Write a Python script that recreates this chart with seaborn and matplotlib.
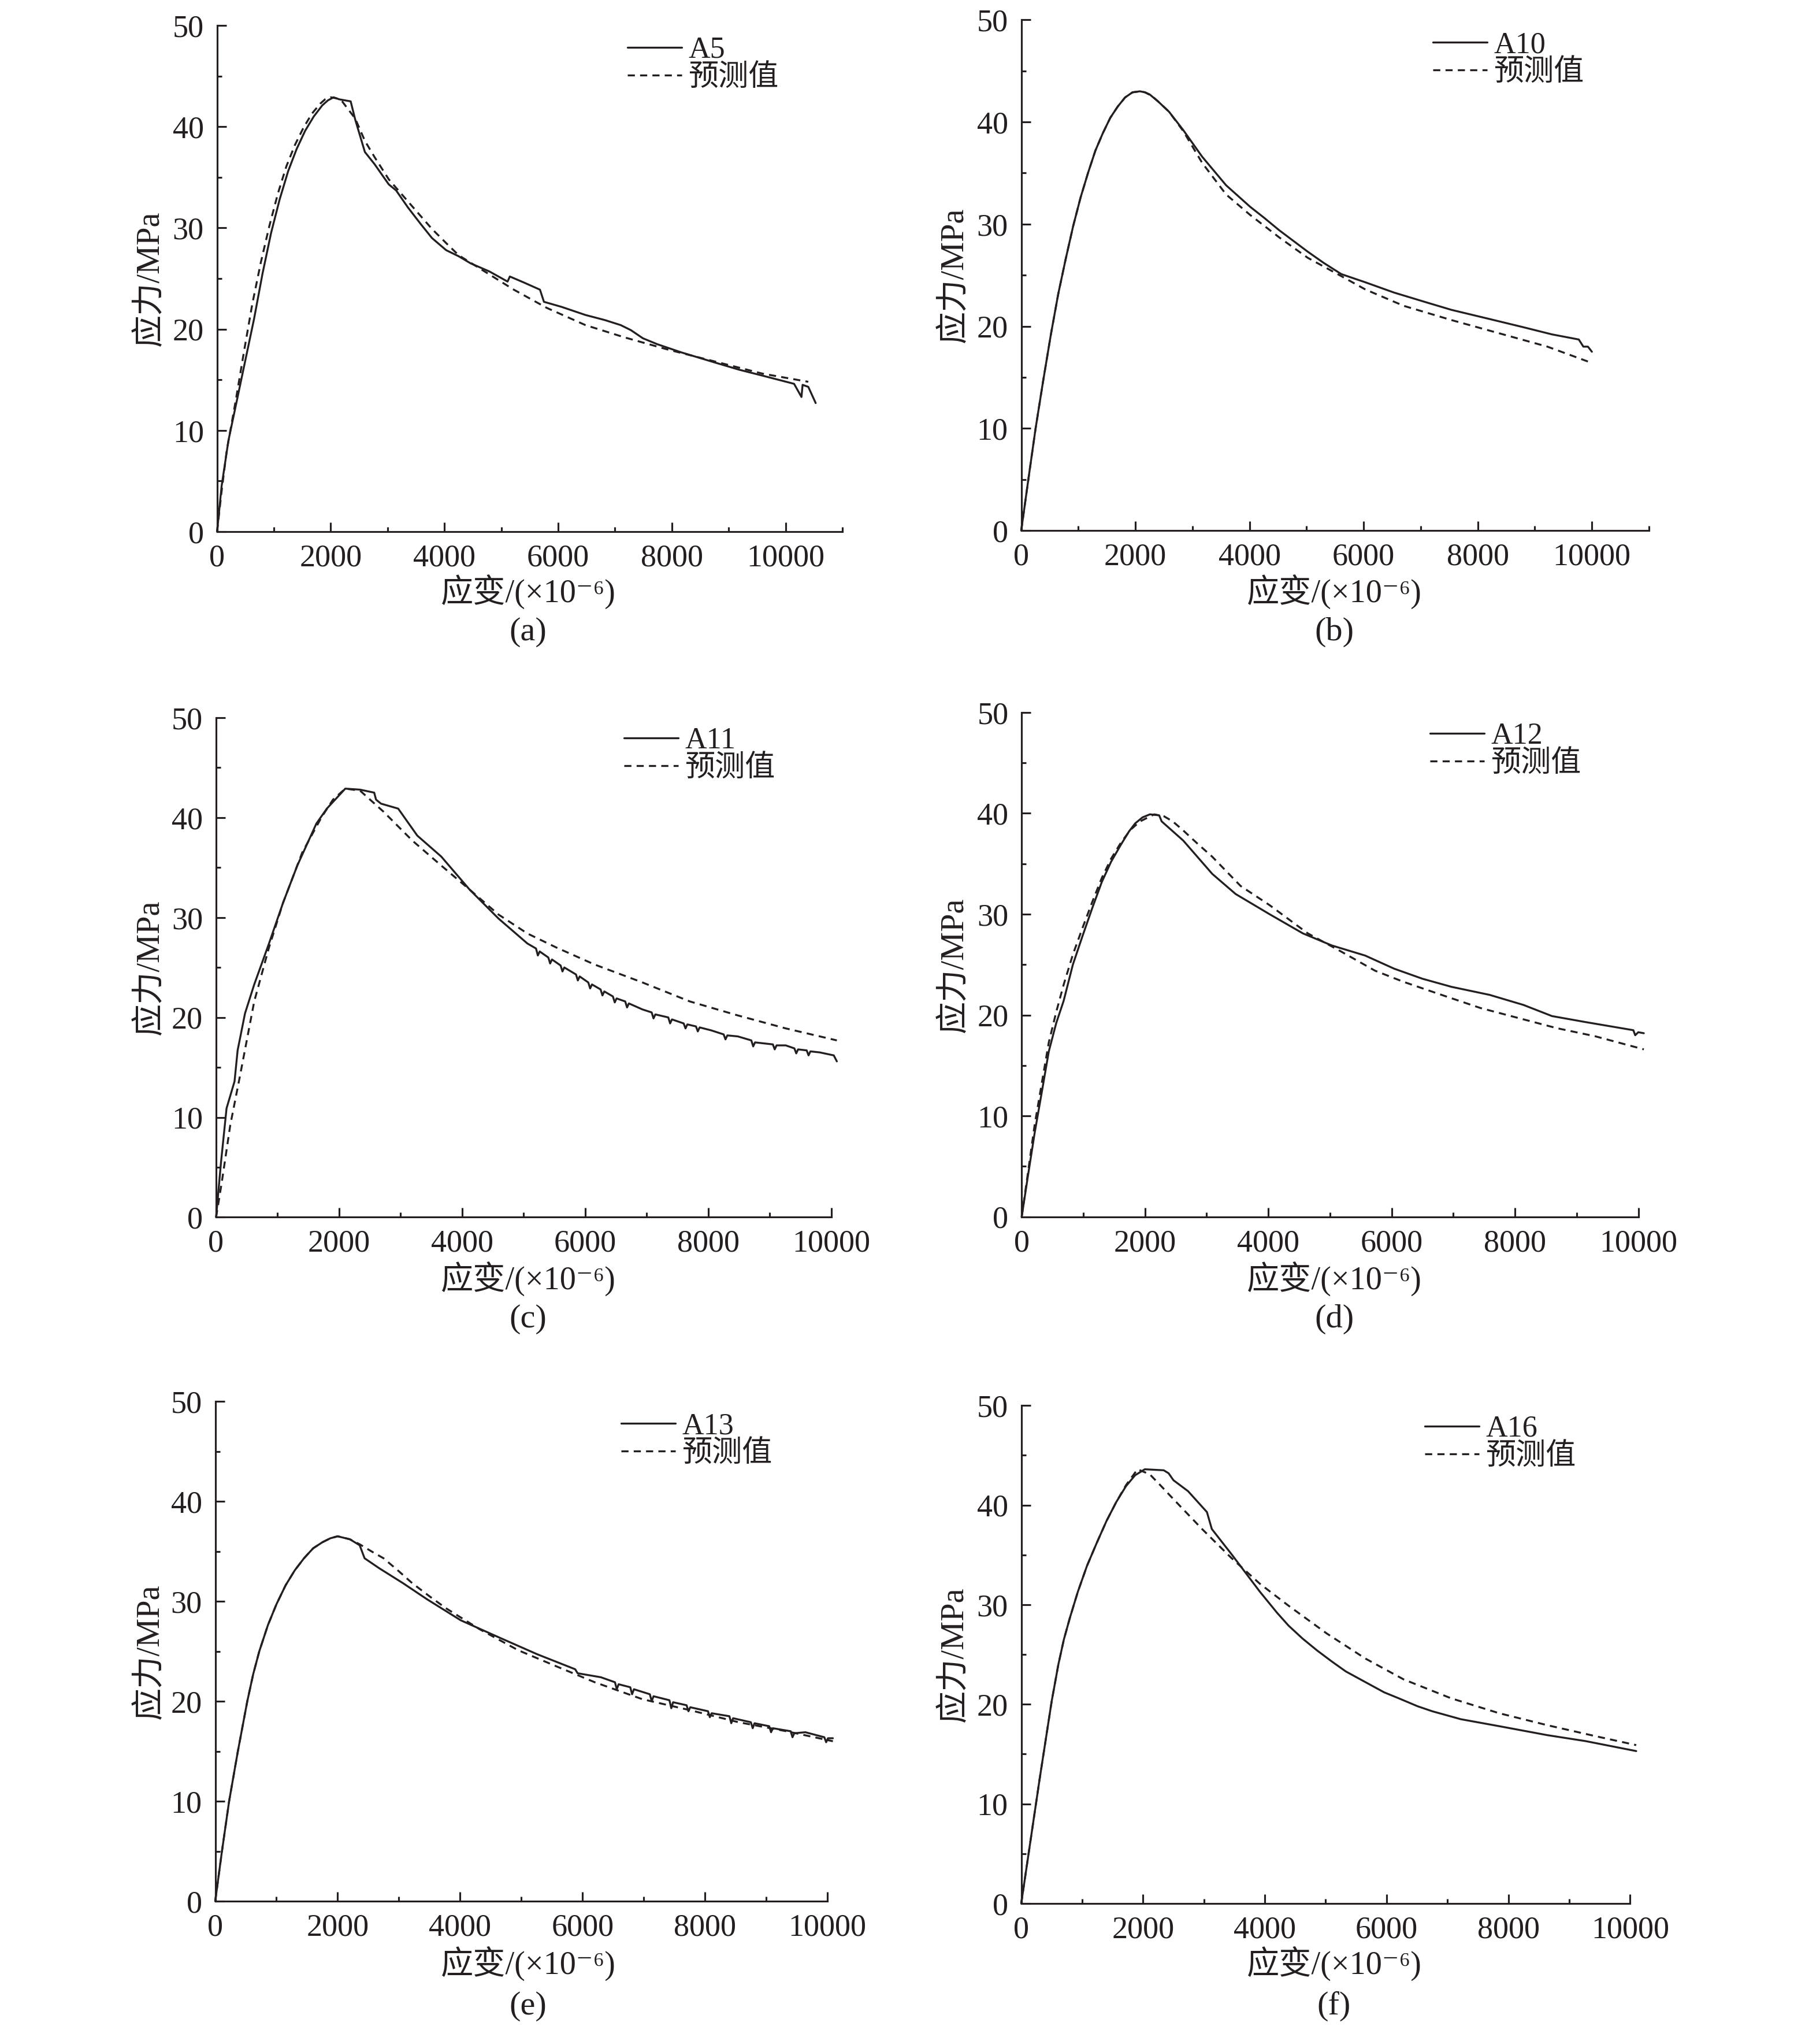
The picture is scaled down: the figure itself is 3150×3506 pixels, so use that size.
import numpy as np
import pandas as pd
import matplotlib
matplotlib.use("Agg")
import matplotlib.pyplot as plt
from matplotlib.ticker import MultipleLocator
import seaborn as sns

# ---- data (strain in 1e-6, stress in MPa) ----
a5_x = [0, 80, 200, 350, 500, 650, 800, 950, 1100, 1250, 1400, 1550, 1700, 1850, 1950, 2050, 2150,
        2250, 2350, 2430, 2600, 2770, 3020, 3150, 3360, 3580, 3780, 4030, 4250, 4460, 4790, 5110,
        5150, 5400, 5680, 5750, 6060, 6480, 6820, 7100, 7280, 7490, 7750, 8170, 8760, 9180, 9600,
        10150, 10280, 10300, 10400, 10530]
a5_y = [0, 4.5, 9, 13, 17, 21, 25.5, 29.5, 32.8, 35.6, 37.8, 39.6, 41.0, 42.1, 42.6, 42.9, 42.7,
        42.6, 42.5, 40.7, 37.5, 36.3, 34.3, 33.7, 32.0, 30.4, 29.0, 27.8, 27.2, 26.5, 25.7, 24.7,
        25.2, 24.6, 23.9, 22.7, 22.2, 21.4, 20.9, 20.4, 19.9, 19.1, 18.5, 17.7, 16.7, 16.0, 15.4,
        14.6, 13.3, 14.5, 14.3, 12.7]
a5_px = [0, 80, 170, 330, 480, 620, 770, 920, 1070, 1220, 1370, 1520, 1670, 1820, 1900, 2000, 2100,
         2200, 2430, 2600, 2770, 3020, 3360, 3780, 4030, 4250, 4620, 5220, 5800, 6480, 7160, 7920,
         8760, 9600, 10400]
a5_py = [0, 4, 8, 13, 18, 22.5, 26.6, 30.2, 33.4, 36.1, 38.2, 39.9, 41.3, 42.3, 42.7, 42.9, 42.8,
         42.5, 40.8, 38.6, 37.0, 34.8, 32.6, 29.9, 28.5, 27.3, 26.0, 23.9, 22.1, 20.4, 19.2, 18.0,
         16.8, 15.6, 14.8]

a10_x = [0, 130, 252, 380, 520, 650, 780, 910, 1040, 1170, 1300, 1430, 1560, 1690, 1820, 1950, 2080,
         2170, 2250, 2400, 2590, 2840, 3170, 3590, 4010, 4260, 4520, 5020, 5300, 5610, 6030, 6530,
         7120, 7540, 8210, 8800, 9300, 9770, 9850, 9930, 10000]
a10_y = [0, 5.2, 10, 14.5, 19.2, 23.2, 26.6, 29.8, 32.6, 35.0, 37.2, 38.9, 40.4, 41.5, 42.4, 42.9, 43.0,
         42.9, 42.7, 42.0, 41.0, 39.2, 36.6, 33.8, 31.7, 30.6, 29.4, 27.3, 26.2, 25.1, 24.3, 23.3,
         22.3, 21.6, 20.7, 19.9, 19.2, 18.7, 18.0, 18.0, 17.5]
a10_px = [0, 130, 252, 380, 520, 650, 780, 910, 1040, 1170, 1300, 1430, 1560, 1690, 1820, 1950, 2080,
          2170, 2300, 2400, 2590, 2840, 3170, 3590, 4010, 4520, 5020, 5610, 6030, 6700, 7540, 8380,
          9220, 10000]
a10_py = [0, 5.2, 10, 14.5, 19.2, 23.2, 26.6, 29.8, 32.6, 35.0, 37.2, 38.9, 40.4, 41.5, 42.4, 42.9, 43.0,
          42.9, 42.5, 42.0, 41.0, 39.1, 36.0, 32.9, 30.9, 28.7, 26.7, 24.9, 23.6, 22.0, 20.6, 19.3,
          18.0, 16.4]

a11_x = [0, 80, 170, 300, 350, 470, 620, 860, 1090, 1320, 1630, 1800, 1950, 2100, 2340, 2570, 2600,
         2680, 2960, 3270, 3660, 4120, 4590, 5060, 5200, 5230, 5260, 5400, 5430, 5460, 5600, 5630,
         5660, 5850, 5880, 5910, 6050, 6080, 6110, 6250, 6280, 6310, 6450, 6480, 6510, 6650, 6680,
         6710, 6930, 7080, 7110, 7140, 7350, 7380, 7410, 7600, 7630, 7660, 7800, 7830, 7860, 8050,
         8250, 8280, 8310, 8480, 8700, 8730, 8760, 9050, 9080, 9110, 9260, 9400, 9430, 9460, 9600,
         9630, 9660, 9810, 10040, 10090]
a11_y = [0, 5.5, 10.9, 13.6, 16.7, 20.4, 23.3, 27.4, 31.5, 35.2, 39.4, 40.9, 41.9, 42.9, 42.8, 42.5, 41.8,
         41.4, 40.9, 38.2, 36.1, 32.8, 29.9, 27.4, 26.9, 26.2, 26.6, 26.0, 25.4, 25.8, 25.2, 24.6,
         25.0, 24.3, 23.7, 24.1, 23.5, 22.9, 23.3, 22.8, 22.2, 22.6, 22.1, 21.5, 21.9, 21.6, 21.0,
         21.4, 20.8, 20.5, 19.9, 20.3, 20.0, 19.4, 19.8, 19.4, 18.9, 19.3, 19.1, 18.6, 19.0, 18.7,
         18.3, 17.8, 18.2, 18.1, 17.7, 17.1, 17.5, 17.3, 16.8, 17.2, 17.2, 16.9, 16.4, 16.8, 16.7,
         16.2, 16.6, 16.5, 16.2, 15.6]
a11_px = [0, 90, 230, 390, 620, 860, 1090, 1400, 1710, 1900, 2100, 2340, 2720, 3190, 3660, 4120, 4590,
          5060, 5530, 6150, 6930, 7700, 8480, 9260, 10090]
a11_py = [0, 3.4, 9.2, 14.2, 21.6, 27.0, 31.5, 36.5, 40.0, 41.8, 42.9, 42.7, 40.6, 37.7, 35.2, 32.8, 30.3,
          28.4, 27.0, 25.3, 23.5, 21.6, 20.2, 18.9, 17.7]

a12_x = [0, 100, 210, 330, 440, 560, 680, 830, 990, 1150, 1300, 1450, 1610, 1740, 1840, 1960, 2080,
         2230, 2270, 2620, 3090, 3470, 4020, 4560, 5030, 5570, 6040, 6500, 6970, 7590, 8140, 8600,
         9150, 9920, 9950, 10000, 10090]
a12_y = [0, 4, 8.3, 12.5, 16.4, 19.2, 21.4, 25, 27.9, 30.7, 33.2, 35.2, 36.9, 38.2, 39.0, 39.6, 39.9,
         39.8, 39.2, 37.3, 34.0, 32.0, 30.0, 28.1, 26.9, 25.9, 24.6, 23.6, 22.8, 22.0, 21.0, 19.9,
         19.3, 18.5, 18.0, 18.3, 18.2]
a12_px = [0, 100, 210, 330, 440, 560, 680, 830, 990, 1150, 1300, 1450, 1610, 1770, 1920, 2150, 2310,
          2450, 2620, 2850, 3090, 3550, 4020, 4640, 5180, 5730, 6190, 6810, 7440, 8060, 8680, 9300,
          10090]
a12_py = [0, 4.3, 9.1, 13.4, 17.3, 20.3, 23.0, 26.0, 28.7, 31.3, 33.6, 35.5, 37.1, 38.4, 39.2, 39.9, 39.7,
          39.2, 38.3, 37.0, 35.7, 32.8, 30.9, 28.1, 26.3, 24.4, 23.3, 22.0, 20.7, 19.7, 18.7, 17.9,
          16.6]

a13_x = [0, 110, 227, 370, 524, 620, 720, 860, 1000, 1150, 1300, 1450, 1600, 1750, 1880, 2000, 2200,
         2360, 2440, 2680, 3070, 3460, 4010, 4630, 5260, 5880, 5920, 6300, 6530, 6560, 6590, 6780,
         6810, 6840, 7100, 7130, 7160, 7420, 7450, 7480, 7700, 7730, 7760, 8050, 8080, 8110, 8400,
         8430, 8460, 8750, 8780, 8810, 9050, 9080, 9110, 9400, 9430, 9460, 9640, 9950, 9980, 10010,
         10090]
a13_y = [0, 5, 10, 15, 20, 22.7, 25, 27.6, 29.7, 31.6, 33.1, 34.3, 35.3, 35.9, 36.3, 36.5, 36.2,
         35.6, 34.3, 33.3, 31.8, 30.2, 28.1, 26.4, 24.7, 23.2, 22.8, 22.4, 21.9, 21.2, 21.7, 21.4,
         20.7, 21.2, 20.7, 20.0, 20.5, 20.1, 19.3, 19.9, 19.6, 19.0, 19.4, 19.0, 18.4, 18.8, 18.5,
         17.8, 18.3, 17.9, 17.3, 17.8, 17.5, 16.9, 17.3, 17.0, 16.4, 16.8, 16.9, 16.4, 15.9, 16.3,
         16.3]
a13_px = [0, 110, 227, 370, 524, 620, 720, 860, 1000, 1150, 1300, 1450, 1600, 1750, 1880, 2000, 2200,
          2360, 2550, 2750, 3000, 3220, 3500, 3770, 4320, 4950, 5570, 6200, 6980, 7760, 8550, 9330,
          10090]
a13_py = [0, 5, 10, 15, 20, 22.7, 25, 27.6, 29.7, 31.6, 33.1, 34.3, 35.3, 35.9, 36.3, 36.5, 36.2,
          35.7, 35.0, 34.3, 33.0, 31.8, 30.5, 29.3, 27.2, 25.1, 23.5, 21.9, 20.2, 19.1, 17.9, 17.0,
          16.0]

a16_x = [0, 300, 500, 610, 700, 800, 930, 1080, 1240, 1400, 1560, 1720, 1870, 2030, 2340, 2420, 2500,
         2740, 3050, 3130, 3450, 3920, 4200, 4390, 4620, 4860, 5100, 5330, 5600, 5960, 6200, 6510,
         6750, 7220, 7850, 8640, 9270, 10100]
a16_y = [0, 12.4, 20.3, 24.0, 26.5, 28.7, 31.3, 33.9, 36.2, 38.4, 40.3, 41.9, 43.0, 43.6, 43.5, 43.2, 42.5,
         41.4, 39.3, 37.6, 35.1, 31.3, 29.2, 27.9, 26.6, 25.4, 24.3, 23.3, 22.4, 21.2, 20.6, 19.8,
         19.3, 18.5, 17.8, 16.9, 16.3, 15.3]
a16_px = [0, 300, 500, 610, 700, 800, 930, 1080, 1240, 1400, 1560, 1720, 1910, 2110, 2300, 2500, 2970,
          3450, 3920, 4390, 5020, 5650, 6280, 7060, 7850, 8640, 9430, 10100]
a16_py = [0, 12.4, 20.3, 24.0, 26.5, 28.7, 31.3, 33.9, 36.2, 38.4, 40.3, 42.0, 43.6, 43.1, 41.9, 40.6, 37.6,
          34.7, 32.1, 29.9, 27.1, 24.6, 22.5, 20.6, 19.1, 17.9, 16.8, 15.9]

names = ["A5", "A10", "A11", "A12", "A13", "A16"]
captions = ["(a)", "(b)", "(c)", "(d)", "(e)", "(f)"]
pred_label = "预测值"
xlabel = "应变/(×10⁻⁶)"
ylabel = "应力/MPa"

measured = [(a5_x, a5_y), (a10_x, a10_y), (a11_x, a11_y),
            (a12_x, a12_y), (a13_x, a13_y), (a16_x, a16_y)]
predicted = [(a5_px, a5_py), (a10_px, a10_py), (a11_px, a11_py),
             (a12_px, a12_py), (a13_px, a13_py), (a16_px, a16_py)]

# ---- layout in output pixels: left, right, top, bottom, xmax ----
W, H = 3150, 3506
boxes = [
    (375.7, 1458.0, 44.0, 920.0, 11000),
    (1767.5, 2854.0, 34.3, 918.0, 11000),
    (374.0, 1438.8, 1242.0, 2106.4, 10000),
    (1768.3, 2835.5, 1232.9, 2105.7, 10000),
    (372.5, 1432.0, 2425.0, 3290.0, 10000),
    (1767.5, 2821.4, 2432.3, 3293.9, 10000),
]
legend_pos = [(1086, 82), (2480, 73), (1080, 1277), (2475, 1269), (1075, 2463), (2466, 2468)]
col_x = [914, 2309]
xlab_y = [1024, 2213, 3398]
cap_y = [1094, 2283, 3472]
ylab_x = [260, 1652]

ink = "#231f20"
lw = 0.8

sns.set_theme(style="ticks")
plt.rcParams["font.family"] = ["Liberation Serif", "DejaVu Serif", "Noto Sans CJK SC"]
plt.rcParams["axes.edgecolor"] = ink
plt.rcParams["axes.linewidth"] = 0.75
plt.rcParams["xtick.color"] = ink
plt.rcParams["ytick.color"] = ink
plt.rcParams["text.color"] = ink

fig = plt.figure(figsize=(W / 300, H / 300), dpi=300)

for i in range(6):
    l, r, t, b, xmax = boxes[i]
    ax = fig.add_axes([l / W, 1 - b / H, (r - l) / W, (b - t) / H])
    mx, my = measured[i]
    px, py = predicted[i]
    sns.lineplot(x=mx, y=my, ax=ax, color=ink, linewidth=lw, label=names[i],
                 estimator=None, sort=False)
    sns.lineplot(x=px, y=py, ax=ax, color=ink, linewidth=lw, label=pred_label,
                 estimator=None, sort=False, linestyle=(0, (3.7, 2.7)))
    for line in ax.lines:
        line.set_clip_on(False)

    ax.set_xlim(0, xmax)
    ax.set_ylim(0, 50)
    ax.xaxis.set_major_locator(MultipleLocator(2000))
    ax.xaxis.set_minor_locator(MultipleLocator(1000))
    ax.yaxis.set_major_locator(MultipleLocator(10))
    ax.yaxis.set_minor_locator(MultipleLocator(5))
    ax.tick_params(which="both", direction="in", width=0.75, labelsize=13)
    ax.tick_params(which="major", length=3.8)
    ax.tick_params(axis="x", which="major", pad=5.0)
    ax.tick_params(axis="y", which="major", pad=5.5)
    ax.tick_params(which="minor", length=1.9)
    sns.despine(ax=ax)
    ax.set_xlabel("")
    ax.set_ylabel("")

    hx, hy = legend_pos[i]
    ax.legend(loc="upper left", bbox_to_anchor=(hx / W, 1 - (hy - 19) / H),
              bbox_transform=fig.transFigure, frameon=False, fontsize=12.5,
              borderpad=0, borderaxespad=0, handlelength=1.8, handletextpad=0.23,
              labelspacing=0.0)

    col = i % 2
    row = i // 2
    fig.text(col_x[col] / W, 1 - xlab_y[row] / H, xlabel, ha="center", va="center", fontsize=13.5)
    fig.text(col_x[col] / W, 1 - cap_y[row] / H, captions[i], ha="center", va="center", fontsize=14)
    fig.text(ylab_x[col] / W, 1 - (t + b) / 2 / H, ylabel, ha="center", va="center",
             rotation=90, fontsize=13.5)

fig.savefig("out.png", dpi=300, facecolor="white")
